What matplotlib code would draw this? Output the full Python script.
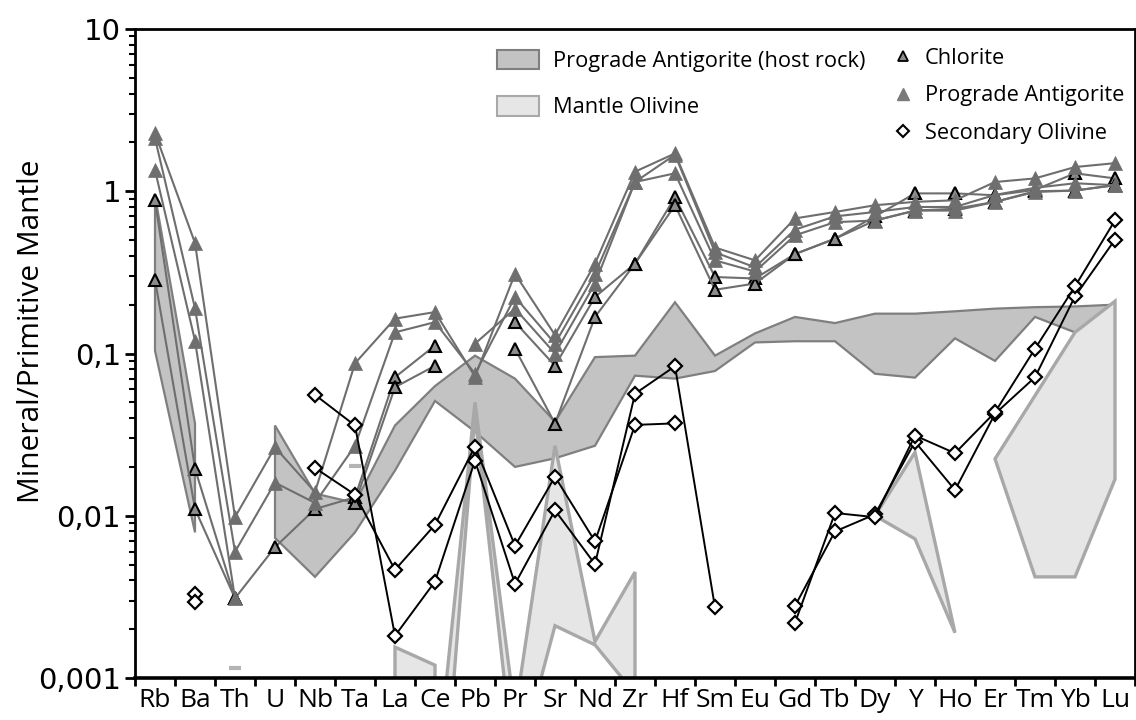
import numpy as np
import matplotlib.pyplot as plt
from matplotlib.patches import Patch
from matplotlib.lines import Line2D
from matplotlib.ticker import FixedLocator, LogLocator, NullFormatter

nan = np.nan

elements = ["Rb", "Ba", "Th", "U", "Nb", "Ta", "La", "Ce", "Pb", "Pr", "Sr", "Nd", "Zr",
            "Hf", "Sm", "Eu", "Gd", "Tb", "Dy", "Y", "Ho", "Er", "Tm", "Yb", "Lu"]

y_ticks = [0.001, 0.01, 0.1, 1, 10]
y_ticklabels = ["0,001", "0,01", "0,1", "1", "10"]

# prograde antigorite (gray triangles)
antigorite_1 = [2.28, 0.48, 0.0098, 0.0264, 0.014, 0.087, 0.164, 0.18, 0.072, 0.31, 0.13, 0.358, 1.32,
                1.71, 0.45, 0.375, 0.68, 0.745, 0.82, 0.86, 0.88, 1.14, 1.2, 1.41, 1.49]
antigorite_2 = [2.12, 0.19, 0.006, 0.016, 0.012, 0.027, 0.135, 0.156, 0.075, 0.223, 0.115, 0.31, 1.14,
                1.68, 0.42, 0.34, 0.58, 0.70, 0.745, 0.80, 0.80, 0.95, 1.05, 1.12, 1.09]
antigorite_3 = [1.35, 0.12, 0.0031, nan, nan, nan, nan, nan, 0.115, 0.189, 0.1, 0.27, 1.14,
                1.29, 0.375, 0.32, 0.535, 0.645, 0.66, 0.76, 0.76, 0.86, 0.99, 1.01, 1.09]

# chlorite (edged triangles)
chlorite_1 = [0.88, 0.0195, 0.0031, 0.0064, 0.011, 0.013, 0.0714, 0.112, nan, 0.156, 0.084, 0.223, 0.358,
              0.92, 0.296, 0.29, 0.41, 0.51, 0.70, 0.97, 0.97, 0.945, 1.02, 1.29, 1.2]
chlorite_2 = [0.285, 0.011, 0.0031, nan, nan, 0.012, 0.062, 0.084, nan, 0.107, 0.037, 0.168, 0.358,
              0.82, 0.247, 0.27, 0.41, 0.51, 0.66, 0.76, 0.78, 0.86, 1.0, 1.01, 1.09]

# secondary olivine (diamonds)
sec_olivine_1 = [nan, 0.0033, nan, nan, 0.0556, 0.036, 0.00182, 0.00393, 0.0219, 0.0038, 0.0108, 0.00503, 0.0565,
                 0.0835, 0.00272, nan, 0.00278, 0.0080, 0.0102, 0.0286, 0.0144, 0.0425, 0.0714, 0.225, 0.503]
sec_olivine_2 = [nan, 0.00296, nan, nan, 0.0197, 0.0135, 0.00464, 0.0088, 0.0267, 0.00653, 0.0174, 0.00695, 0.0363,
                 0.0371, nan, nan, 0.00219, 0.0104, 0.0098, 0.0312, 0.0243, 0.0434, 0.107, 0.259, 0.662]

# prograde antigorite host rock field: (first element index, upper, lower)
host_rb_ba = (0, [0.94, 0.037], [0.104, 0.0079])
host_main = (3,
             [0.036, 0.0137, 0.012, 0.036, 0.063, 0.097, 0.07, 0.038, 0.095, 0.097, 0.207, 0.097,
              0.133, 0.168, 0.154, 0.176, 0.176, 0.182, 0.189, 0.193, 0.195, 0.2],
             [0.0073, 0.0042, 0.0079, 0.019, 0.051, 0.033, 0.02, 0.0226, 0.027, 0.073, 0.07, 0.078,
              0.117, 0.119, 0.119, 0.075, 0.071, 0.124, 0.09, 0.168, 0.135, 0.2])

# mantle olivine field pieces
mantle_la_ce = (6, [0.00155, 0.0012], [0.0001, 0.0001])
mantle_ce_zr = (7, [0.0002, 0.05, 0.0006, 0.027, 0.00168, 0.0045],
                [0.000035, 0.042, 0.00025, 0.0021, 0.0016, 0.0008])
mantle_dy_ho = (18, [0.01, 0.0246, 0.0019], [0.01, 0.0072, 0.0019])
mantle_er_lu = (21, [0.0224, 0.055, 0.135, 0.21], [0.0224, 0.0042, 0.0042, 0.0168])
mantle_single_idx = [2, 5]
mantle_single_val = [0.00116, 0.0203]

HOST_FACE, HOST_EDGE = "#c3c3c3", "#7f7f7f"
MANTLE_FACE, MANTLE_EDGE = "#e6e6e6", "#a8a8a8"
TRI_LINE = "#6e6e6e"
FONT = "Open Sans"


def draw_field(ax, piece, face, edge, lw, z):
    start, upper, lower = piece
    x = np.arange(start, start + len(upper))
    xs = np.concatenate([x, x[::-1]])
    ys = np.concatenate([upper, lower[::-1]])
    ax.fill(xs, ys, facecolor=face, edgecolor=edge, linewidth=lw, zorder=z, joinstyle="miter")


fig = plt.figure(figsize=(11.36, 7.2), dpi=100)
ax = fig.add_axes([135 / 1136, 1 - 678 / 720, 1000 / 1136, 649 / 720])
ax.set_yscale("log")
ax.set_ylim(0.001, 10)
ax.set_xlim(-0.5, 24.5)

idx = np.arange(len(elements))

for piece in (host_rb_ba, host_main):
    draw_field(ax, piece, HOST_FACE, HOST_EDGE, 1.6, 1)
for piece in (mantle_la_ce, mantle_ce_zr, mantle_dy_ho, mantle_er_lu):
    draw_field(ax, piece, MANTLE_FACE, MANTLE_EDGE, 2.4, 2)
ax.plot(mantle_single_idx, mantle_single_val, ls="none", marker="_", ms=9, mew=3,
        color="#b4b4b4", zorder=2)

for series in (chlorite_1, chlorite_2):
    ax.plot(idx, series, color=TRI_LINE, lw=1.5, zorder=3, marker="^", ms=9,
            mfc="#8c8c8c", mec="black", mew=1.5)
for series in (antigorite_1, antigorite_2, antigorite_3):
    ax.plot(idx, series, color=TRI_LINE, lw=1.5, zorder=4, marker="^", ms=9.5,
            mfc="#6e6e6e", mec="#6e6e6e", mew=0.5)
for series in (sec_olivine_1, sec_olivine_2):
    ax.plot(idx, series, color="black", lw=1.4, zorder=5, marker="D", ms=7,
            mfc="white", mec="black", mew=1.6)

# axes styling
for side in ("top", "right", "left"):
    ax.spines[side].set_linewidth(2)
ax.spines["bottom"].set_linewidth(2.6)
ax.set_xticks(idx)
ax.set_xticklabels(elements, fontsize=19, family=FONT)
ax.xaxis.set_minor_locator(FixedLocator(np.arange(-0.5, 25, 1)))
ax.tick_params(axis="x", which="major", length=0, pad=7)
ax.tick_params(axis="x", which="minor", length=6, width=2, direction="out")
ax.yaxis.set_major_locator(FixedLocator(y_ticks))
ax.set_yticklabels(y_ticklabels, fontsize=21, family="DejaVu Sans")
ax.yaxis.set_minor_locator(LogLocator(base=10, subs=np.arange(2, 10)))
ax.yaxis.set_minor_formatter(NullFormatter())
ax.tick_params(axis="y", which="major", length=7, width=2, direction="out", pad=3)
ax.tick_params(axis="y", which="minor", length=4, width=1.5, direction="out")
ax.set_ylabel("Mineral/Primitive Mantle", fontsize=21.5, family=FONT)
ax.yaxis.set_label_coords(-0.089, 0.535)

# legends
field_handles = [Patch(facecolor=HOST_FACE, edgecolor=HOST_EDGE, lw=1.5),
                 Patch(facecolor=MANTLE_FACE, edgecolor=MANTLE_EDGE, lw=1.5)]
leg1 = ax.legend(field_handles, ["Prograde Antigorite (host rock)", "Mantle Olivine"],
                 loc="upper left", bbox_to_anchor=(486 / 1136, 1 - 39 / 720),
                 bbox_transform=fig.transFigure, frameon=False, borderpad=0,
                 handlelength=1.95, handleheight=1.0, handletextpad=0.6, labelspacing=1.1,
                 prop={"family": FONT, "size": 15.7})
ax.add_artist(leg1)
marker_handles = [Line2D([], [], ls="none", marker="^", ms=7, mfc="#8c8c8c", mec="black", mew=1.3),
                  Line2D([], [], ls="none", marker="^", ms=8, mfc="#7a7a7a", mec="#7a7a7a"),
                  Line2D([], [], ls="none", marker="D", ms=6, mfc="white", mec="black", mew=1.5)]
ax.legend(marker_handles, ["Chlorite", "Prograde Antigorite", "Secondary Olivine"],
          loc="upper left", bbox_to_anchor=(882 / 1136, 1 - 37 / 720),
          bbox_transform=fig.transFigure, frameon=False, borderpad=0,
          handlelength=0.9, handletextpad=0.55, labelspacing=0.75,
          prop={"family": FONT, "size": 15.7})

fig.savefig("out.png", dpi=100)
